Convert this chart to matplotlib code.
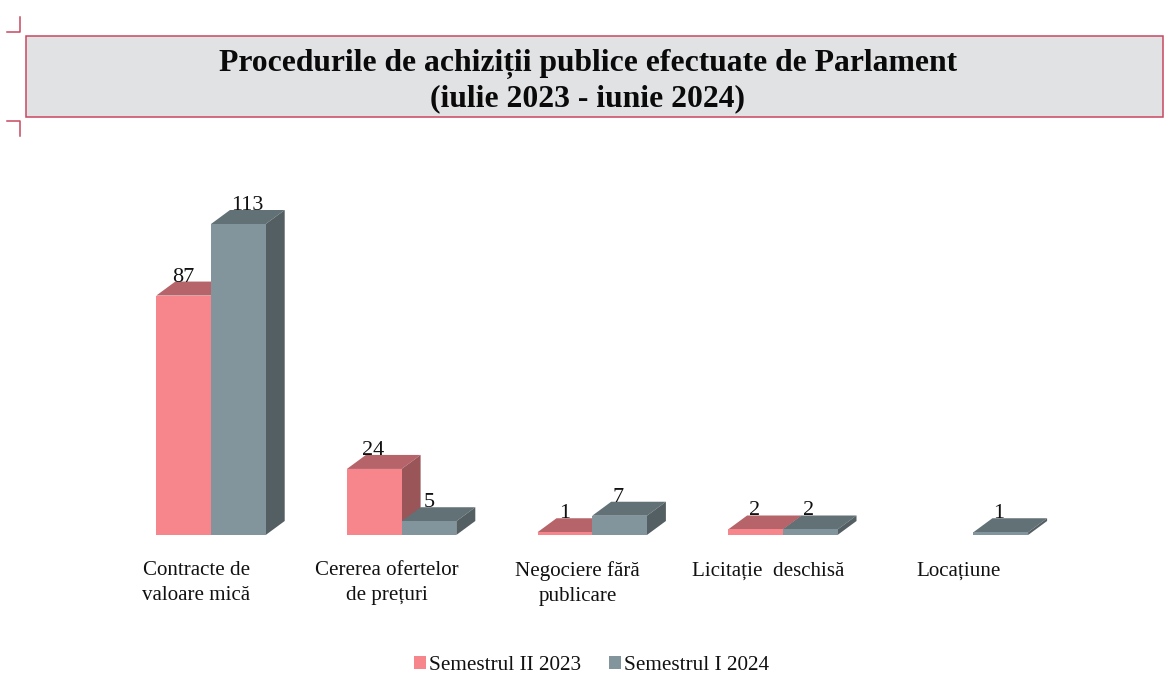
import numpy as np
import matplotlib
matplotlib.use("Agg")
import matplotlib.pyplot as plt
from matplotlib.patches import Polygon, Rectangle
from matplotlib.lines import Line2D

plt.rcParams['font.family'] = ['Liberation Serif', 'DejaVu Serif']

title = "Procedurile de achiziții publice efectuate de Parlament\n(iulie 2023 - iunie 2024)"
categories = ["Contracte de\nvaloare mică", "Cererea ofertelor\nde prețuri",
              "Negociere fără\npublicare", "Licitație  deschisă", "Locațiune"]
series_names = ["Semestrul II 2023", "Semestrul I 2024"]
sem2_2023 = [87, 24, 1, 2, None]
sem1_2024 = [113, 5, 7, 2, 1]
label_shift_a = [0, -1, 0, -1, 0]
label_shift_b = [9, 0, -1, -2, -2]

W, H = 1164, 673
fig = plt.figure(figsize=(W / 100, H / 100), dpi=100, facecolor='white')

BASE_PX, TOP_PX = 535, 150
PX_PER_UNIT = 311 / 113
PX_PER_CAT = 190.6
FIRST_CAT_PX = 211
ax = fig.add_axes([0, (H - BASE_PX) / H, 1, (BASE_PX - TOP_PX) / H])
ax.set_xlim(-FIRST_CAT_PX / PX_PER_CAT, (W - FIRST_CAT_PX) / PX_PER_CAT)
ax.set_ylim(0, (BASE_PX - TOP_PX) / PX_PER_UNIT)
for s in ax.spines.values():
    s.set_visible(False)
ax.set_yticks([])
ax.set_xticks(np.arange(len(categories)) - 14.5 / PX_PER_CAT)
ax.set_xticklabels(categories, fontsize=15.1, linespacing=1.38, color='#111111')
ax.tick_params(axis='x', length=0, pad=19)

bar_w = 54.7 / PX_PER_CAT
dx = 19 / PX_PER_CAT
dy = 14 / PX_PER_UNIT

PALETTE = [dict(front='#F6868C', top='#B66469', side='#9A5559'),
           dict(front='#82959C', top='#627176', side='#535F63')]


def bar3d(x, v, c):
    ax.add_patch(Polygon([(x, v), (x + bar_w, v), (x + bar_w + dx, v + dy), (x + dx, v + dy)],
                         facecolor=c['top'], edgecolor='none'))
    ax.add_patch(Polygon([(x + bar_w, 0), (x + bar_w + dx, dy), (x + bar_w + dx, v + dy), (x + bar_w, v)],
                         facecolor=c['side'], edgecolor='none'))
    ax.add_patch(Rectangle((x, 0), bar_w, v, facecolor=c['front'], edgecolor='none', clip_on=False))


for i in range(len(categories)):
    for j, (vals, shift) in enumerate([(sem2_2023, label_shift_a), (sem1_2024, label_shift_b)]):
        v = vals[i]
        if v is None:
            continue
        x = i - bar_w + j * bar_w
        bar3d(x, v, PALETTE[j])
        ax.annotate(str(v), (x + bar_w / 2, v + dy), xytext=(shift[i] * 0.72, 0),
                    textcoords='offset points', ha='center', va='baseline',
                    fontsize=16, color='#111111')

# title band and crop marks (figure pixel coordinates)
px = lambda x: x / W
py = lambda y: 1 - y / H
fig.add_artist(Rectangle((px(26), py(117)), (1163 - 26) / W, 81 / H, transform=fig.transFigure,
                         facecolor='#E1E2E4', edgecolor='#C9475F', linewidth=1.1))
fig.text(px(588), py(81), title, ha='center', va='center', fontsize=22.8, fontweight='bold',
         linespacing=1.22, color='#0A0A0A')
mark = dict(color='#C9475F', linewidth=1.1, transform=fig.transFigure)
fig.add_artist(Line2D([px(7), px(20), px(20)], [py(32), py(32), py(17)], **mark))
fig.add_artist(Line2D([px(7), px(20), px(20)], [py(121), py(121), py(136)], **mark))

handles = [Rectangle((0, 0), 1, 1, facecolor=PALETTE[k]['front']) for k in range(2)]
fig.legend(handles, series_names, loc='lower left', bbox_to_anchor=(px(414), py(675)),
           bbox_transform=fig.transFigure, ncol=2, frameon=False, fontsize=15.3,
           handlelength=0.58, handleheight=0.58, handletextpad=0.14, columnspacing=1.3,
           borderpad=0, borderaxespad=0, labelcolor='#111111')

fig.savefig("out.png", dpi=100)
